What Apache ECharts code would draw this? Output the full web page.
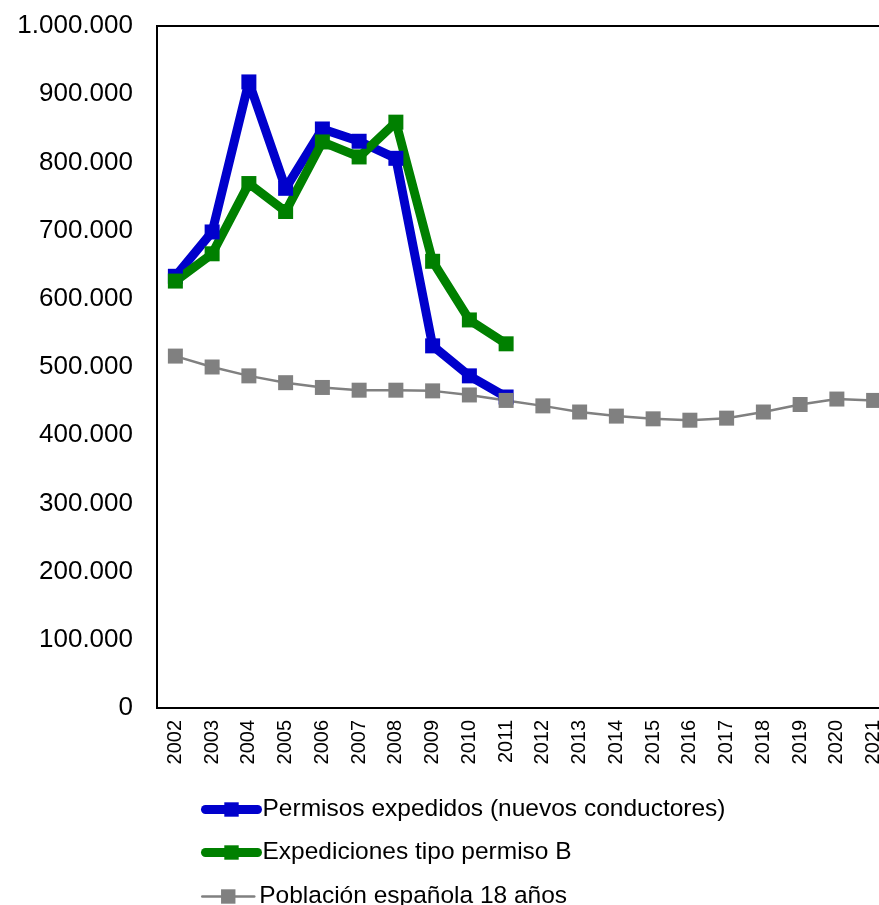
<!DOCTYPE html>
<html>
<head>
<meta charset="utf-8">
<script src="https://cdn.jsdelivr.net/npm/echarts@6/dist/echarts.min.js"></script>
<style>
  html, body { margin: 0; padding: 0; background: #fff; }
  #chart { width: 879px; height: 905px; }
</style>
</head>
<body>
<div id="chart"></div>
<script>
// Años del eje horizontal
const years = ['2002','2003','2004','2005','2006','2007','2008','2009','2010','2011',
               '2012','2013','2014','2015','2016','2017','2018','2019','2020','2021'];

// Permisos expedidos (nuevos conductores)
const permisos = [633000, 698000, 918000, 762000, 849000, 831000, 806000, 531000, 487000, 456000,
                  null, null, null, null, null, null, null, null, null, null];

// Expediciones tipo permiso B
const permisoB = [626000, 666000, 769000, 728000, 830000, 808000, 859000, 655000, 569000, 534000,
                  null, null, null, null, null, null, null, null, null, null];

// Población española de 18 años
const poblacion18 = [516000, 500000, 487000, 477000, 470000, 466000, 466000, 465000, 459000, 451000,
                     443000, 434000, 428000, 424000, 422000, 425000, 434000, 445000, 453000, 451000];

// Nombres de las series
const seriesNames = ['Permisos expedidos (nuevos conductores)', 'Expediciones tipo permiso B', 'Población española 18 años'];

const FONT = "Arial, 'Liberation Sans', sans-serif";
const BLUE = '#0000CC';
const GREEN = '#008000';
const GREY = '#808080';

function miles(v) {
  return String(v).replace(/\B(?=(\d{3})+(?!\d))/g, '.');
}

function legendItem(name, top, color, width) {
  return {
    orient: 'vertical',
    left: 201,
    top: top,
    itemWidth: 52,
    itemHeight: 18,
    itemGap: 0,
    padding: 0,
    selectedMode: false,
    itemTextGap: 0,
    textStyle: { fontFamily: FONT, fontSize: 24.5, color: '#000', lineHeight: 18 },
    data: [{ name: name, lineStyle: { width: width, color: color, cap: 'round' }, itemStyle: { color: color } }]
  };
}

const chart = echarts.init(document.getElementById('chart'), null, { renderer: 'canvas' });

chart.setOption({
  animation: false,
  backgroundColor: '#fff',
  grid: {
    left: 157, top: 26, bottom: 197, width: 735,
    outerBoundsMode: 'none',
    containLabel: false,
    show: true, borderColor: '#000', borderWidth: 2, backgroundColor: 'transparent'
  },
  legend: [
    legendItem(seriesNames[0], 797, BLUE, 9),
    legendItem(seriesNames[1], 840, GREEN, 9),
    legendItem(seriesNames[2], 884, GREY, 2.5)
  ],
  xAxis: {
    type: 'category',
    data: years,
    boundaryGap: true,
    axisLine: { show: false },
    axisTick: { show: false },
    splitLine: { show: false },
    axisLabel: {
      rotate: 90, margin: 12, interval: 0,
      fontFamily: FONT, fontSize: 20, color: '#000'
    }
  },
  yAxis: {
    type: 'value',
    min: 0, max: 1000000, interval: 100000,
    axisLine: { show: false },
    axisTick: { show: false },
    splitLine: { show: false },
    axisLabel: {
      margin: 24,
      fontFamily: FONT, fontSize: 26, color: '#000',
      formatter: miles
    }
  },
  series: [
    {
      name: seriesNames[0], type: 'line', data: permisos,
      symbol: 'rect', symbolSize: 15, showAllSymbol: true,
      lineStyle: { color: BLUE, width: 9 },
      itemStyle: { color: BLUE }
    },
    {
      name: seriesNames[1], type: 'line', data: permisoB,
      symbol: 'rect', symbolSize: 15, showAllSymbol: true,
      lineStyle: { color: GREEN, width: 9 },
      itemStyle: { color: GREEN }
    },
    {
      name: seriesNames[2], type: 'line', data: poblacion18,
      symbol: 'rect', symbolSize: 15, showAllSymbol: true,
      lineStyle: { color: GREY, width: 2.5 },
      itemStyle: { color: GREY }
    }
  ]
});
</script>
</body>
</html>
